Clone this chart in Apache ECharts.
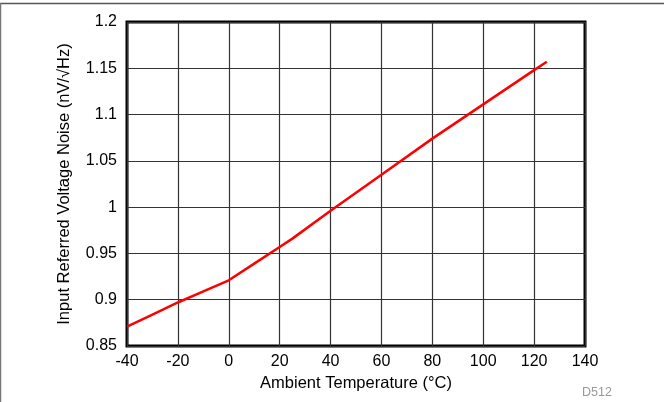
<!DOCTYPE html>
<html>
<head>
<meta charset="utf-8">
<script src="https://cdn.jsdelivr.net/npm/echarts@6/dist/echarts.min.js"></script>
<style>
  html, body { margin: 0; padding: 0; background: #fff; }
  #chart { width: 664px; height: 402px; }
</style>
</head>
<body>
<div id="chart"></div>
<script>
// Ambient temperature (°C) and input referred voltage noise (nV/√Hz)
const temperatures = [-40, -30, -20, -10, 0, 10, 20, 25, 40, 60, 80, 100, 120, 125];
const noiseValues  = [0.871, 0.884, 0.897, 0.909, 0.921, 0.939, 0.957, 0.966, 0.996, 1.035, 1.074, 1.111, 1.148, 1.157];

const xTicks = { min: -40, max: 140, step: 20 };
const yTicks = { min: 0.85, max: 1.2, step: 0.05 };

const chart = echarts.init(document.getElementById('chart'));
const font = '"Liberation Sans", Arial, sans-serif';

chart.setOption({
  animation: false,
  grid: {
    left: 127, top: 22, width: 458, height: 324,
    show: true, borderColor: '#000', borderWidth: 3, backgroundColor: 'transparent'
  },
  xAxis: {
    type: 'value',
    min: xTicks.min, max: xTicks.max, interval: xTicks.step,
    name: 'Ambient Temperature (°C)',
    nameLocation: 'middle', nameGap: 28,
    nameTextStyle: { fontFamily: font, fontSize: 16.5, color: '#000' },
    axisLine: { show: false },
    axisTick: { show: false },
    axisLabel: { fontFamily: font, fontSize: 16, color: '#000', margin: 8 },
    splitLine: { show: true, lineStyle: { color: '#333', width: 1.2 } }
  },
  yAxis: {
    type: 'value',
    min: yTicks.min, max: yTicks.max, interval: yTicks.step,
    name: 'Input Referred Voltage Noise (nV/√Hz)',
    nameLocation: 'middle', nameGap: 54,
    nameTextStyle: { fontFamily: font, fontSize: 16.5, color: '#000' },
    axisLine: { show: false },
    axisTick: { show: false },
    axisLabel: {
      fontFamily: font, fontSize: 16, color: '#000', margin: 10,
      formatter: v => String(parseFloat(v.toFixed(2)))
    },
    splitLine: { show: true, lineStyle: { color: '#333', width: 1.2 } }
  },
  series: [{
    type: 'line',
    data: temperatures.map((t, i) => [t, noiseValues[i]]),
    showSymbol: false,
    smooth: false,
    lineStyle: { color: '#ff0000', width: 2.5 },
    z: 5
  }],
  graphic: [
    { type: 'line', shape: { x1: 0, y1: 3.5, x2: 664, y2: 3.5 }, style: { stroke: '#555', lineWidth: 1.5 } },
    { type: 'line', shape: { x1: 0.5, y1: 3, x2: 0.5, y2: 402 }, style: { stroke: '#777', lineWidth: 1.5 } },
    { type: 'text', left: 582, top: 386, style: { text: 'D512', fontFamily: font, fontSize: 12.5, fill: '#999' } }
  ]
});
</script>
</body>
</html>
